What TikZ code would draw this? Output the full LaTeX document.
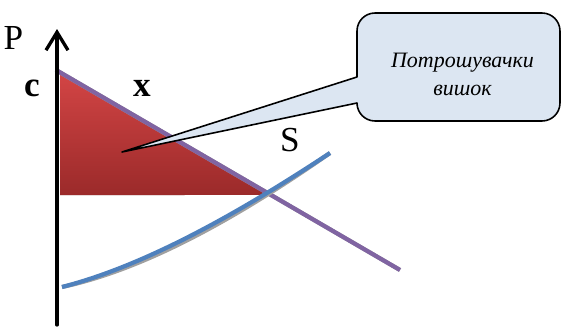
\documentclass[tikz,border=0pt]{standalone}
\usepackage{fontspec}
\setmainfont{Liberation Serif}
\usetikzlibrary{arrows.meta,calc}
\definecolor{demandc}{HTML}{8064A2}
\definecolor{supplyc}{HTML}{4F81BD}
\definecolor{shadowc}{HTML}{A0A0A0}
\definecolor{surtop}{HTML}{D34545}
\definecolor{surbot}{HTML}{9B2A2A}
\definecolor{calloutc}{HTML}{DCE6F2}
\tikzset{curve/.style={line width=2.4pt,line cap=butt},
	shadowline/.style={curve,shadowc,shift={(0.025,-0.06)}},
	callout/.style={draw=black,fill=calloutc,line width=0.9pt}}
\begin{document}
\begin{tikzpicture}[font=\fontsize{20}{24}\selectfont, line join=round, line cap=round]
	\useasboundingbox (0,0) rectangle (11.28,6.54);
	\coordinate (O) at (1.14,0.04);
	\coordinate (Ptop) at (1.14,5.96);
	\coordinate (D1) at (1.12,5.14);
	\coordinate (D2) at (8.0,1.14);
	\coordinate (S0) at (1.24,0.8);
	\coordinate (S1) at (6.6,3.48);
	\coordinate (A) at (1.2,5.09);
	\coordinate (B) at (1.2,2.64);
	\coordinate (C) at (intersection of D1--D2 and B--{(6,2.64)});
	\coordinate (tip) at (2.44,3.5);
	% consumer surplus
	\fill[shadowc,shift={(0.03,-0.06)}] (A)--(B)--(C)--cycle;
	\shade[top color=surtop,bottom color=surbot] (A)--(B)--(C)--cycle;
	% demand and supply
	\draw[shadowline] (D1)--(D2);
	\draw[curve,demandc] (D1)--(D2);
	\draw[shadowline] (S0) .. controls (2.8,1.2) and (4.6,2.16) .. (S1);
	\draw[curve,supplyc] (S0) .. controls (2.8,1.2) and (4.6,2.16) .. (S1);
	% axis
	\draw[line width=1.9pt,-{Straight Barb[length=0.36cm,width=0.44cm,line width=1.9pt]}] (O)--(Ptop);
	% callout
	\draw[callout] (tip) -- (7.14,4.48) arc (180:270:0.36) -- (10.84,4.12) arc (270:360:0.36)
		-- (11.2,5.92) arc (0:90:0.36) -- (7.5,6.28) arc (90:180:0.36) -- (7.14,5.0) -- cycle;
	\node[align=center,font=\fontsize{12.5}{16}\selectfont\itshape] (txt) at (9.25,5.06) {Потрошувачки\\вишок};
	% labels
	\node (P) at (0.27,5.78) {P};
	\node (c) at (0.64,4.78) {\textbf{c}};
	\node (x) at (2.84,4.78) {\textbf{x}};
	\node (S) at (5.8,3.74) {S};
\end{tikzpicture}
\end{document}
